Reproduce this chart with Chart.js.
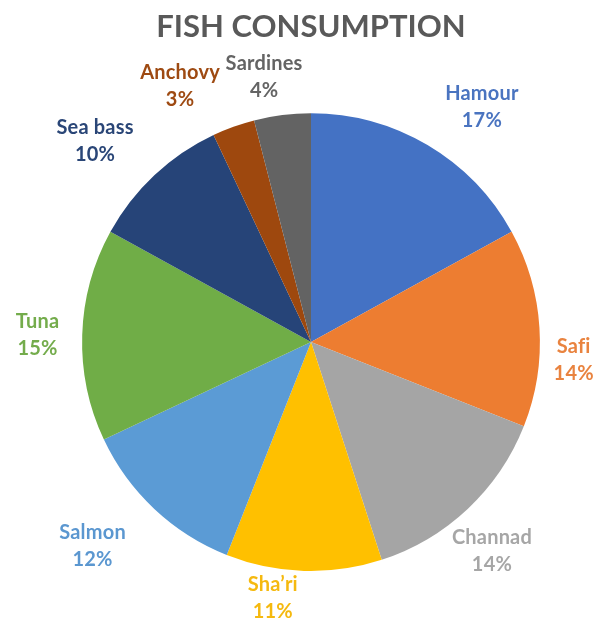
<!DOCTYPE html>
<html>
<head>
<meta charset="utf-8">
<script src="https://cdn.jsdelivr.net/npm/chart.js@4"></script>
<style>
  html, body { margin: 0; padding: 0; background: #fff; }
  #wrap { width: 601px; height: 627px; }
</style>
</head>
<body>
<div id="wrap"><canvas id="fishChart" width="601" height="627"></canvas></div>
<script>
// fish species and their share of consumption (%)
const species = ['Hamour', 'Safi', 'Channad', 'Sha\u2019ri', 'Salmon', 'Tuna', 'Sea bass', 'Anchovy', 'Sardines'];
const shares = [17, 14, 14, 11, 12, 15, 10, 3, 4];

const sliceColors = ['#4472C4', '#ED7D31', '#A5A5A5', '#FFC000', '#5B9BD5', '#70AD47', '#264478', '#9E480E', '#636363'];
const labelColors = ['#4A74C0', '#E9833F', '#A6A6A6', '#F5B90F', '#5B97D0', '#74AC4C', '#2A4677', '#9E4A12', '#646464'];

// where each label block sits: angle clockwise from 12 o'clock (deg), distance as a multiple of the pie radius
const labelSpots = [[36, 1.27], [93.7, 1.15], [139, 1.205], [188.5, 1.13], [227, 1.305], [271.5, 1.195], [313, 1.29], [333, 1.26], [350, 1.18]];

const outsideLabels = {
    id: 'outsideLabels',
    afterDatasetsDraw(chart) {
        const ctx = chart.ctx;
        const arcs = chart.getDatasetMeta(0).data;
        ctx.save();
        ctx.font = 'bold 20px Lato';
        ctx.letterSpacing = '0.2px'; // also keeps "fi" from turning into a ligature
        ctx.textAlign = 'center';
        ctx.textBaseline = 'middle';
        arcs.forEach((arc, i) => {
            const a = labelSpots[i][0] * Math.PI / 180;
            const r = arc.outerRadius * labelSpots[i][1];
            const x = arc.x + Math.sin(a) * r;
            const y = arc.y - Math.cos(a) * r;
            ctx.fillStyle = labelColors[i];
            ctx.fillText(species[i], x, y - 13);
            ctx.fillText(shares[i] + '%', x, y + 14);
        });
        ctx.restore();
    }
};

new Chart(document.getElementById('fishChart'), {
    type: 'pie',
    data: {
        labels: species,
        datasets: [{
            data: shares,
            backgroundColor: sliceColors,
            borderWidth: 0
        }]
    },
    options: {
        responsive: false,
        animation: false,
        layout: { padding: { top: 0, bottom: 56, left: 82, right: 61 } },
        plugins: {
            legend: { display: false },
            tooltip: { enabled: false },
            title: {
                display: true,
                text: 'FISH CONSUMPTION',
                color: '#595959',
                font: { family: 'Lato', size: 31, weight: 'bold' },
                padding: { top: 8, bottom: 68 }
            }
        }
    },
    plugins: [outsideLabels]
});
</script>
</body>
</html>
